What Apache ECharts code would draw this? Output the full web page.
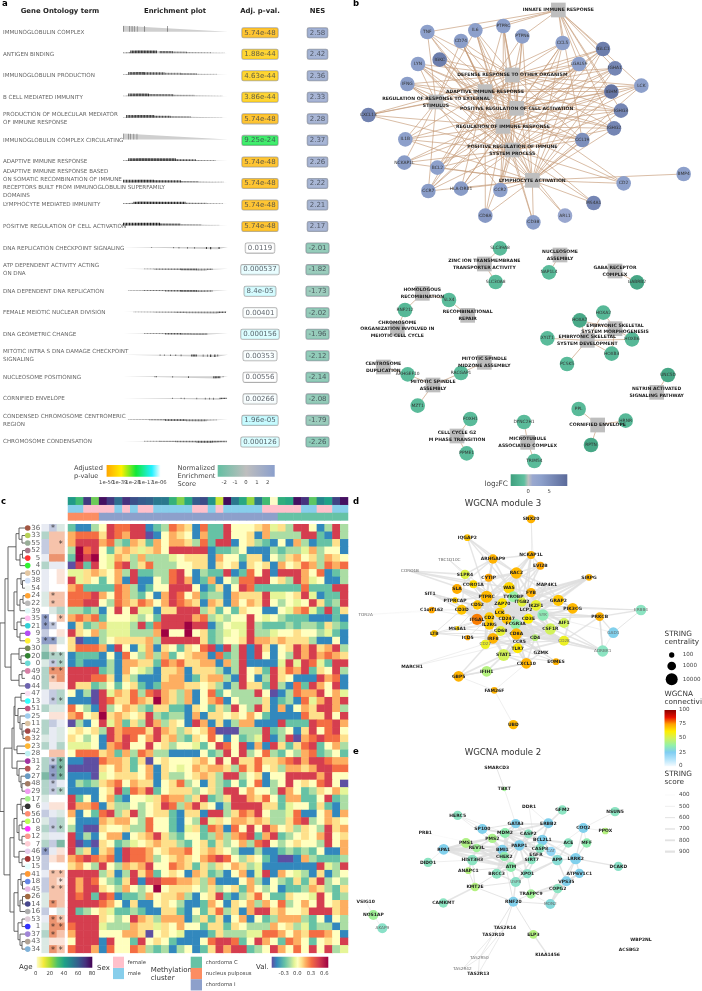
<!DOCTYPE html>
<html><head><meta charset="utf-8">
<style>html,body{margin:0;padding:0;background:#fff;overflow:hidden}#c{width:702px;height:991px}</style>
<script src="https://cdn.jsdelivr.net/npm/echarts@6/dist/echarts.min.js"></script></head>
<body><div id="c"></div>
<script>
// ---------- panel a data ----------
const goTermsA = ["IMMUNOGLOBULIN COMPLEX","ANTIGEN BINDING","IMMUNOGLOBULIN PRODUCTION","B CELL MEDIATED IMMUNITY",
 "PRODUCTION OF MOLECULAR MEDIATOR\nOF IMMUNE RESPONSE","IMMUNOGLOBULIN COMPLEX CIRCULATING","ADAPTIVE IMMUNE RESPONSE",
 "ADAPTIVE IMMUNE RESPONSE BASED\nON SOMATIC RECOMBINATION OF IMMUNE\nRECEPTORS BUILT FROM IMMUNOGLOBULIN SUPERFAMILY\nDOMAINS",
 "LYMPHOCYTE MEDIATED IMMUNITY","POSITIVE REGULATION OF CELL ACTIVATION","DNA REPLICATION CHECKPOINT SIGNALING",
 "ATP DEPENDENT ACTIVITY ACTING\nON DNA","DNA DEPENDENT DNA REPLICATION","FEMALE MEIOTIC NUCLEAR DIVISION","DNA GEOMETRIC CHANGE",
 "MITOTIC INTRA S DNA DAMAGE CHECKPOINT\nSIGNALING","NUCLEOSOME POSITIONING","CORNIFIED ENVELOPE",
 "CONDENSED CHROMOSOME CENTROMERIC\nREGION","CHROMOSOME CONDENSATION"];
const pvalLabels = ["5.74e-48","1.88e-44","4.63e-44","3.86e-44","5.74e-48","9.25e-24","5.74e-48","5.74e-48","5.74e-48","5.74e-48",
 "0.0119","0.000537","8.4e-05","0.00401","0.000156","0.00353","0.00556","0.00266","1.96e-05","0.000126"];
const nesValues = [2.58,2.42,2.36,2.33,2.28,2.37,2.26,2.22,2.21,2.17,-2.01,-1.82,-1.73,-2.02,-1.96,-2.12,-2.14,-2.08,-1.79,-2.26];
const esPeakRank = [0,.14,.14,.14,.14,0,.16,.16,.16,.16,.9,.75,.75,.9,.75,.88,.88,.92,.75,.88];
const esPeak = [.86,.38,.38,.38,.38,.86,.38,.38,.38,.38,-.3,-.26,-.26,-.26,-.26,-.3,-.3,-.26,-.26,-.26];
// gene-set hits along the ranked list: [from, to, density]
const hitBands = [
 [[0,.008,.5],[.06,.066,.6],[.083,.09,.6],[.108,.114,.6],[.133,.138,.6],[.203,.208,.9],[.42,.425,.9]],
 [[0,.07,.5],[.07,.32,.95],[.35,.47,.7],[.47,.6,.45],[.6,.83,.3],[.83,.97,.2]],
 [[0,.05,.4],[.05,.2,.85],[.2,.4,.7],[.4,.55,.45],[.55,.7,.6],[.7,.9,.25]],
 [[0,.05,.3],[.05,.24,.9],[.24,.47,.6],[.47,.68,.35],[.68,.95,.25]],
 [[0,.03,.3],[.03,.3,.9],[.3,.45,.7],[.45,.65,.5],[.65,.95,.2]],
 [[0,.006,.5],[.05,.056,.6],[.07,.076,.6],[.1,.106,.6],[.13,.136,.6]],
 [[0,.05,.4],[.05,.5,.95],[.5,.7,.7],[.7,.88,.4]],
 [[0,.3,.85],[.3,.55,.8],[.55,.72,.5],[.72,.95,.3]],
 [[0,.1,.5],[.1,.6,.9],[.6,.8,.5],[.8,.95,.3]],
 [[0,.35,.95],[.35,.55,.75],[.55,.75,.45],[.75,.92,.2]],
 [[.27,.277,.7],[.48,.486,.7],[.53,.536,.7],[.61,.616,.7],[.68,.686,.7],[.79,.8,.7],[.83,.84,.8],[.91,.92,.7]],
 [[.2,.3,.4],[.3,.55,.6],[.55,.7,.75],[.7,.8,.4],[.8,.85,.5]],
 [[.05,.2,.35],[.2,.4,.55],[.4,.55,.65],[.55,.7,.8],[.7,.85,.4]],
 [[.1,.3,.3],[.3,.5,.4],[.5,.6,.5],[.6,.9,.4],[.9,.98,.7]],
 [[.2,.4,.4],[.4,.55,.7],[.55,.65,.5],[.65,.8,.4]],
 [[.35,.356,.8],[.39,.396,.8],[.45,.456,.8],[.5,.506,.8],[.55,.556,.8],[.65,.7,.85],[.76,.766,.7],[.8,.806,.7],[.83,.84,.8],[.87,.88,.8],[.9,.906,.8]],
 [[.3,.32,.7],[.47,.477,.8],[.62,.627,.8],[.86,.92,.8],[.95,.956,.7]],
 [[.47,.476,.7],[.55,.556,.7],[.58,.586,.7],[.7,.706,.7],[.78,.786,.7],[.82,.826,.7],[.86,.866,.7],[.92,.98,.8]],
 [[.05,.25,.45],[.25,.4,.7],[.4,.6,.85],[.6,.8,.5],[.8,.9,.25]],
 [[.2,.35,.4],[.35,.5,.45],[.5,.7,.55],[.7,.85,.7],[.85,.98,.7]]
];
// ---------- panel c data ----------
const rowLabels = [36,33,55,52,5,4,50,38,54,24,22,39,35,21,9,3,30,20,0,49,40,44,47,13,51,25,11,42,32,23,28,31,2,27,48,29,17,6,56,10,8,12,7,46,19,15,41,18,45,26,14,16,53,1,37,43,34];
const rowDots = ["#8b2d14","#a6c52d","#7f9a7e","#8f5a6e","#ff0000","#00ee00","#dcb98c","#c6d8f5","#f0f5f0","#ff8c00","#a9a9a9","#d8f6f8","#ffb3ee","#00c5cd","#a020f0","#ffee00","#556b2f","#006400","#48d1cc","#cd6090","#ffffff","#483d9b","#f8d8f0","#00ffff","#b03060","#87bfe8","#d2b48c","#8b1a1a","#cd6b2d","#ffa500","#b0eef0","#8b008b","#a52a2a","#4682b4","#8b5a3c","#ee82ee","#90ee70","#000000","#ff7050","#adff2f","#ff00ff","#fa8072","#ffc0cb","#e0c0e8","#8b0000","#e0ffff","#ff7f00","#4169e1","#e6a8e0","#8b4513","#191970","#999999","#d8c0d0","#0000ff","#8968cd","#9c8c7c","#5f9fd0"];
const heatLevels = "abcdefghijk";
const heatRows = [
"cbbdfj iijjbc dihgbi ccjfff ghegdj jfbdjd","hiiigj ihjjab fhgfbh ccjffg bhdddd jjcbjd","hjjjhi dchgch fhhgdi cjjbfg dcbfbh dbccgb",
"dkijfc ghgegh fjjjjj bccdfb bbdcdd ehdffb","ckjkfe hgdhdd defggg bhffcg gbfdgh fgdhgf","ajcjfe ijdgid ddffgg bgfgbg fgbhfg ihdihi",
"eeghgf hdjccd dijfbd ccjbci fjbjjj hfibcd","jegfcf hbjbbf dijhbc hbfdii jjfgdj hefbbd","hicccc ihdbcf fjjjfb cgbfji cccccc icccjj",
"iiijhf ihdcfb hjifhc ddbhgg gjeefg jebccj","iijjfd ihgihf hjihgb hgbhfh gjfdfe fjgcdj","ddcdbf jfjeeb ggjjjd gcfcgf fbbfeh iecjcg",
"hihicf ffedfc jjjjhi dedffj fefdcc cbbbcb","bgcdhe eedjci jjjkjj bdfeej dcccdc ddcgdc","jgfhde eedddh kffkfg cdefej ddeffg ffdecb",
"gabbdf gggghd jjjjjg cdffgj hhghgg gdbbfb","giiihb jfbehb gfcgfi jbjdjb jgbfgj hjghjd","bcccbf bifdhd hcfghh bicdjb jfbfdj hjhihg",
"bcbbbd bhhggc ihiggh hbhdjb bbbeje jiecjj","jjjjcd bhfedb gghbgg gdbdjf gcjgih jcgfjd","jjjiig bgdbbb ghhbcg hhdbjf bdjgfb bbjhib",
"jggcdf cfgcbc hhhggf gdbdjg gcjdbi cjhfjb","fbdaje hgidij hgdhbf icfddd jfabdi hhjfhe","bbbaji ggihgk hgdhbf hibfdd dgbcdb iehjhj",
"ifdbjd fhgdcg gccbgf cgdjfd jgbhbf hgjjhd","hifgkg hgfgjd cddbhb ggfgfh fcbbbb iggjfj","adbfje hcgdjh dgfbjh bgbdhh bbbjcc cjiijh",
"fgfgdj hiiigj hgdgfg iaaadd djcdfb gjfijf","gfdfbj hjifhj ghdcgf ifbfcd ejbdja hijiig","eeefbh ijffjf gdffec fjifjb hbjgcg ijcfhd",
"fiiigh chdihd dbbbbf cdjfjd fidcfd hicdfc","bbaaih hgcgaf gfffgh fjfjgg igghij hjjihh","aaaagf hgcfhb gfefhg hhgdig ifgdhh ghjjii",
"bbbaef gggfhb gddfgh gdjjdf gbffjj jjhjff","bdcdgh ifhggb fgidfb gdcfcf ibdfjf gfijfa","bbbbfg jcihjc fgggdf gdjjfh ffdjhf cdgfhe",
"jcfbfh cbffeg ihhdgj cdgjjh gifchh ccfjcd","jhhibg ddfdfg jidhjg fbdjjj jggcef fcgcbd","hbfcij dgjdfg gcbggb jjdgih jfddei bbfhbh",
"fbbbhg hhfdif fcbfdj egfhhg hgddgi jdfhgf","dbaagf fgddif fcbegc ihbifj fjhfgd gfdjgh","jbdbfh hbfghj gdcffc dhdhij chjcdf gfhjfg",
"jabagf cdefgh ggdcfg cgdfhd ijfdfg ffdjfh","jdgbgh bjiihf ghhifg hgfdbb dbbcdc dcfbbh","hijihi bjiihd fghgfh ijifdg fcbaab hdcccd",
"ghfdjf dhghjf fihgcg dgfhgd ebbbbb bbjedj","jjjjdg bdjgic fgfbhg cdbfhb ejbhfe dbgbdf","jhjifd cgjbjj iihhgd hbbbfh dbfdcg cgjdfd",
"jhjjgf dhfdfk fgggfd gdfgch fdfbcc dhgdcg","jijcji bccdhf gghdbf gjcbdg ifccgf fejfcd","jjjjih fbgbbf gfdbbc hfbgfh dhfidf hfjfgh",
"jcdfge ccdcbb ggcbfc gidgbh jjghff gjjjgh","jjjjgf dfjhgd hhhbdg cgbfhb fcdhhh dcfbfd","ijjjed ddhgge gfhffc ggcgfd ddhfgd ecddbd",
"hjjjff fhhgaf gfebbb cgddde eiihfh giihfb","fjjjbj ffcjfg fcbbbf ijjicf jhfcih fcfgfj","ijjhbi ffihdc dbdfbc gjhjjc dfjhfi fjfjde"
];
const sampleAge = [42,32,68,26,77,68,55,70,63,60,58,52,52,35,24,38,60,64,44,15,78,52,38,22,52,32,-1,36,38,77,70,28,48,40,66,77];
const sampleSex = "mmffffmfmffmmmmmffmfmmmmmfffffmmffmm";
const sampleCluster = "nnnniiiiiiiiiiiiiiiiiiiiiiicccccccc c".replace(/ /g,"");
const annotCells = ["qpg","too","poo","poo","qOO","tqq","qwy","qwy","qww","goo","goo","wgt","Pwo","Ppw","pwy","PPg","tyw","Ttt","gpt","tOO","toO","tyy","qpt","qpt","tgg","wyy","tpq","tqg","gqg","tqt","woo","tpT","tPT","TPT","tpq","tpt","gww","qyy","pqg","gpt","tpt","gqq","tpT","Pqy","pyo","pww","qoo","poy","poo","goo","gOo","pwg","qOo","gOO","tOo","gyy","gOo"];
const annotStars = [".*.","...","..*","...","...","...","...","...","...",".*.",".*.","...","*.*","**.","...","**.","...",".**",".**",".**",".*.","...","...",".**","...","...","...","...","...","...","...",".**",".**",".**",".*.",".**","...","...","...","...",".**","...","...","*..","...","...",".**","..*",".**","...",".*.","...",".**",".**",".*.","...",".**"];
const annotLevels = "wgtTqpPyoO";
const annotPalette = ["#ffffff","#dbe9e4","#b2d4c9","#7db8a5","#e8ebf3","#c4cbe0","#8f9dc6","#fbe3d8","#f6c3ab","#ec9470"];
// dendrogram: [height, left, right], leaves are row numbers
const dendroTree = [25,
 [20,[17,[9,[6,0,[3,1,2]],[5,[2.5,3,4],5]],[11,[8,[4,6,[2.5,7,8]],[5,[2,9,10],11]],[8,[4,12,13],[5,14,15]]]],
     [14,[6,16,[4,17,18]],[6,[3,19,20],21]]],
 [21,[13,[11,[10,[4,22,23],[7,24,[5,25,[3,26,[2,27,28]]]]],[8,29,30]],[8,31,[6,32,[4,33,[3,34,35]]]]],
     [15,[11,[8,[4,36,[2.5,37,38]],[6,[3,39,40],[3,41,42]]],[6,43,[3,44,45]]],
         [11,[7,[4,46,[2.5,47,48]],[5,[2.5,49,50],51]],[7,[3,52,53],[5,54,[3,55,56]]]]]]];
// ---------- panel b data: [label, layoutX, layoutY] ----------
const bTerms = [["INNATE IMMUNE RESPONSE",625,30],["DEFENSE RESPONSE TO OTHER ORGANISM",487,225],["ADAPTIVE IMMUNE RESPONSE",405,275],
 ["REGULATION OF RESPONSE TO EXTERNAL\nSTIMULUS",258,306],["POSITIVE REGULATION OF CELL ACTIVATION",500,325],["REGULATION OF IMMUNE RESPONSE",459,379],
 ["POSITIVE REGULATION OF IMMUNE\nSYSTEM PROCESS",487,450],["LYMPHOCYTE ACTIVATION",547,541],
 ["ZINC ION TRANSMEMBRANE\nTRANSPORTER ACTIVITY",403,792],["NUCLEOSOME\nASSEMBLY",630,765],["GABA RECEPTOR\nCOMPLEX",795,813],
 ["HOMOLOGOUS\nRECOMBINATION",217,880],["RECOMBINATIONAL\nREPAIR",353,946],["CHROMOSOME\nORGANIZATION INVOLVED IN\nMEIOTIC CELL CYCLE",142,987],
 ["EMBRYONIC SKELETAL\nSYSTEM MORPHOGENESIS",795,986],["EMBRYONIC SKELETAL\nSYSTEM DEVELOPMENT",712,1021],["CENTROSOME\nDUPLICATION",100,1101],
 ["MITOTIC SPINDLE\nASSEMBLY",249,1155],["MITOTIC SPINDLE\nMIDZONE ASSEMBLY",403,1087],["CELL CYCLE G2\nM PHASE TRANSITION",321,1308],
 ["MICROTUBULE\nASSOCIATED COMPLEX",533,1327],["CORNIFIED ENVELOPE",743,1275],["NETRIN ACTIVATED\nSIGNALING PATHWAY",920,1177]];
// [gene, layoutX, layoutY, log2FC, linked term indices]
const bGenes = [["TNF",232,96,3,[0,1,3,4,5,6]],["IL6",376,91,3,[0,1,3,4,5,6,7]],["PTPRC",460,78,3,[0,1,2,4,5,6,7]],["PTPN6",517,109,3,[0,2,4,5,6,7]],
 ["CD74",333,123,3.2,[1,2,3,4,5,6,7]],["CCL5",638,129,3,[0,1,3,4,5,6,7]],["IGLC1",759,147,7,[0,1,2,4,5,6,7]],["LGALS9",687,192,3,[0,1,2,4,5,6,7]],
 ["IGKC",269,179,7,[1,2,4,5,6,7]],["LYN",204,192,3,[1,2,3,4,5,6,7]],["IGHA1",795,205,6,[0,1,2,4,5,6,7]],["IFNG",172,252,3.2,[1,2,3,4,5,6,7]],
 ["LCK",874,257,3,[0,1,2,4,5,6,7]],["IGHM",784,275,8,[0,1,2,4,5,6,7]],["IGHG3",813,332,6,[0,1,2,4,5,6,7]],["CXCL13",55,345,6.5,[1,2,3,5,6]],
 ["IGHG2",792,385,6,[0,1,2,4,5,6,7]],["IL1B",166,418,3,[1,3,4,5,6,7]],["CCL19",697,420,5,[0,1,3,4,5,6,7]],["NCKAP1L",163,488,3.5,[3,4,5,6,7]],
 ["BCL2",262,503,3,[1,2,4,5,6,7]],["CD2",821,550,3,[4,5,6,7]],["BMP4",1001,522,3,[7]],["CCR7",235,573,3.5,[1,2,3,4,5,6,7]],
 ["HLA-DRB1",333,566,3.5,[2,4,5,6,7]],["CCR2",451,570,3,[1,3,4,5,6,7]],["MS4A1",731,609,6,[5,6,7]],["ARL1",645,647,1.2,[6,7]],
 ["CD8A",406,647,3.8,[2,5,6,7]],["CD38",550,667,3.2,[5,6,7]],
 ["SLC39A8",450,745,-1.5,[8]],["SLC30A8",437,846,-1.5,[8]],["NAP1L4",597,817,-1.5,[9]],["GABRB2",861,847,-3.5,[10]],["RNF212",165,930,-1.8,[11,13]],
 ["SLX4",297,900,-1.5,[11,12]],["HOXA2",760,938,-1.8,[14,15]],["HOXA7",689,961,-3.2,[14,15]],["HOXB6",846,1018,-1.8,[14,15]],["XYLT1",592,1015,-1.5,[15]],
 ["HOXB3",785,1061,-1.8,[14,15]],["PCSK5",651,1092,-1.5,[15]],["ARHGEF10",173,1123,-1.5,[16,17]],["RACGAP1",333,1119,-1.5,[17,18]],["MZT1",203,1217,-1.5,[17]],
 ["FOXH1",361,1257,-1.5,[19]],["PPME1",350,1360,-1.5,[19]],["DYNC2H1",522,1266,-1.5,[20]],["TRIM54",553,1383,-1.5,[20]],["PPL",686,1227,-1.6,[21]],
 ["HRNR",827,1262,-1.8,[21]],["RPTN",723,1335,-3.4,[21]],["UNC5D",954,1125,-3.4,[22]]];
// ---------- panels d,e data: [gene, layoutX, layoutY, centrality, connectivity] ----------
const m3Nodes = [["SNX20",543,57,1000,72],["IQGAP2",352,113,260,69],["TBC1D10C",298,180,0,0],["ARHGAP9",429,177,1600,72],["NCKAP1L",543,165,640,72],["EVI2B",571,197,640,74],
 ["CORO1B",180,213,0,0],["S1PR4",345,223,1600,53],["CYTIP",416,233,640,74],["RAC2",499,219,6000,71],["SIRPG",717,232,260,72],["CORO1A",370,253,640,65],["MAP4K1",590,255,0,70],
 ["WAS",477,263,6000,66],["SLA",321,267,2500,73],["FYB",543,278,1600,72],["SIT1",240,280,0,70],["PTPRC",410,290,10000,71],["TYROBP",490,290,4000,38],["GRAP2",625,301,6000,69],
 ["PTPRCAP",315,301,160,68],["CD52",382,315,1600,69],["ITGB2",516,306,1600,54],["ZAP70",457,310,2500,63],["IKZF1",558,316,4000,56],["LCP2",528,330,0,70],["PIK3CG",668,325,4000,71],
 ["ERBB4",873,330,4000,33],["C1orf162",245,330,260,74],["CD3D",335,329,2500,69],["TOR2A",47,344,0,0],["LCK",449,338,2500,68],["SYK",579,345,6000,35],["PRKCB",749,350,1000,72],
 ["CD2",418,352,2500,68],["CD247",470,357,2500,69],["CD3E",535,356,2500,62],["ITGAL",381,358,6000,78],["AIF1",642,369,2500,50],["FCGR3A",497,372,4000,37],["IL2RG",418,374,2500,68],
 ["MS4A1",322,385,60,66],["CD68",452,393,2500,55],["CSF1R",601,387,6000,50],["GAD1",790,398,4000,26],["LTB",253,400,260,69],["CD8A",499,402,6000,71],["IRF8",429,415,4000,72],
 ["ICD5",353,413,100,74],["CD4",555,413,260,45],["CD27",406,433,1600,57],["CCR5",508,425,0,65],["CD28",642,422,2500,57],["TLR7",503,445,2500,63],["ADRBK1",758,453,6000,33],
 ["GZMK",573,457,0,70],["STAT1",461,465,10000,50],["EOMES",618,485,260,72],["CXCL10",529,490,4000,72],["MARCH1",186,500,0,70],["IFIH1",410,514,4000,44],["GBP5",326,529,4000,72],
 ["FAM26F",433,571,260,72],["UBD",490,674,1600,71]];
// [score, hub, partners]
const m3Edges = [[850,"CD3E",["CD247","CD2","LCK","ZAP70","CD3D","CD8A","CD4","LCP2","CD28","PTPRC","IL2RG","ITGAL","CCR5"]],
 [900,"LCK",["CD247","ZAP70","CD4","CD8A","CD2","PTPRC","CD3D","LCP2","SYK","CD28","FYB","WAS","GRAP2","IL2RG","ITGAL"]],
 [850,"TYROBP",["SYK","FCGR3A","ITGB2","CSF1R","AIF1","CD68","IKZF1","RAC2","FYB","PTPRC"]],[800,"ITGB2",["ITGAL","FCGR3A","CD68","CSF1R","RAC2","PTPRC","SYK","LCP2"]],
 [800,"PTPRC",["CD247","CD2","ZAP70","CD4","WAS","RAC2","ITGAL","CD52","PTPRCAP","SLA","CYTIP","CORO1A","CD3D","CD27","CD8A","IL2RG","SYK","IKZF1","CD68"]],
 [750,"ARHGAP9",["PTPRC","WAS","RAC2","IQGAP2","S1PR4","NCKAP1L","CYTIP","SLA"]],[750,"NCKAP1L",["RAC2","WAS","EVI2B","PTPRC","LCP2","ITGB2"]],[500,"SNX20",["NCKAP1L","IKZF1"]],
 [750,"EVI2B",["ITGB2","TYROBP","PTPRC","RAC2"]],[750,"MAP4K1",["FYB","LCP2","GRAP2","RAC2","CD3E"]],[800,"SIRPG",["CD3E","ITGB2","LCP2","FYB","CD2","GRAP2","ZAP70"]],
 [800,"GRAP2",["LCP2","ZAP70","FYB","CD3E","PIK3CG","ITGAL"]],[700,"PIK3CG",["LCK","CD3E","FCGR3A","ITGB2","SYK","RAC2"]],[700,"PRKCB",["SYK","LCK","ERBB4","GAD1","CD3E","CD28","LCP2","ADRBK1"]],
 [600,"ERBB4",["GAD1","IKZF1","PIK3CG"]],[700,"ADRBK1",["CD4","CD3E","PRKCB","SYK","CD28"]],[500,"GAD1",["SYK","ADRBK1"]],[800,"CD28",["CD4","CD3E","CD8A","LCK","CD2","PIK3CG","IL2RG","ADRBK1","STAT1"]],
 [800,"STAT1",["IFIH1","CXCL10","GBP5","IL2RG","CD4","CD8A","TLR7","CCR5","IRF8","CD3E","CSF1R"]],[750,"CXCL10",["CCR5","IFIH1","CD8A","TLR7","GBP5","CD4","GZMK"]],[700,"GBP5",["IFIH1","IRF8"]],
 [500,"FAM26F",["UBD","GBP5","CXCL10"]],[700,"IRF8",["CD68","TLR7","CSF1R"]],[500,"MARCH1",["CD4","CD8A"]],[400,"TOR2A",["CD3D","C1orf162"]],[600,"TBC1D10C",["ZAP70","PTPRC"]],
 [750,"CORO1B",["CORO1A","PTPRC","S1PR4","WAS"]],[700,"SIT1",["LCK","CD3E","CD2","CD3D"]],[500,"C1orf162",["FCGR3A","CD3D"]],[600,"LTB",["CD3D","CD2","IL2RG","CD8A","CCR5"]],
 [600,"MS4A1",["CD2","CD8A","CD3E","PTPRC"]],[600,"ICD5",["CD8A","CD2"]],[700,"GZMK",["CD8A","CD3E","CCR5","CD2"]],[600,"EOMES",["CD8A","STAT1","GZMK","TLR7"]],[700,"CD27",["CD4","CD28","CD2","PTPRC","ZAP70","LCK"]],
 [800,"CCR5",["CD4","CD8A"]],[700,"TLR7",["CD4","IRF8","TYROBP"]],[700,"CD52",["CD2","PTPRC","CD3D","LCK"]],[850,"CD3D",["ZAP70","CD2","CD4","CD8A","CD247","ITGAL"]],
 [900,"ZAP70",["CD247","CD8A","LCP2","CD4","ITGAL","CD2","SYK"]],[900,"CD247",["CD8A","CD4","CD2","FCGR3A","ITGAL"]],[900,"CD4",["CD8A","CD2","IL2RG","LCP2","CD68","AIF1","CSF1R","TYROBP"]],
 [850,"CD8A",["CD2","IL2RG","ITGAL","FCGR3A"]],[850,"IL2RG",["CD2","ITGAL","SYK","LCP2"]],[850,"SYK",["LCP2","FCGR3A","WAS","IKZF1","CSF1R","FYB"]],[800,"WAS",["RAC2","CD3E","FYB","ITGB2","CD2"]],
 [800,"RAC2",["SYK","FCGR3A","ITGAL","CYTIP","CORO1A"]],[800,"FCGR3A",["CD68","CSF1R","CD2"]],[800,"CSF1R",["AIF1","CD68","CD4"]],[700,"AIF1",["CD68","IKZF1"]],[750,"IKZF1",["IL2RG","CD3E","LCK","CD2","FYB"]],
 [700,"SLA",["LCK","ZAP70","CD3E"]],[700,"CYTIP",["CD3E","LCK"]],[700,"CORO1A",["LCK","CD3E","ZAP70"]],[700,"PTPRCAP",["LCK","CD3D"]],[700,"IQGAP2",["RAC2","PTPRC","ITGB2"]],[650,"S1PR4",["CD3D","CXCL10"]]];
const m2Nodes = [["SMARCD3",440,84,0,0],["TBXT",463,147,60,40],["DDR1",537,199,0,0],["GFM2",637,210,1600,33],["NSUN5",795,215,1600,33],["HERC5",323,226,1600,33],["ERBB2",595,250,2500,26],
 ["GATA3",497,251,1600,26],["COQ2",700,264,2500,26],["SP100",397,267,2500,26],["PPOX",766,273,260,44],["PRB1",226,279,0,0],["MDM2",465,279,2500,36],["CASP2",535,281,1000,33],["PMS2",427,295,1600,42],
 ["BCL2L1",577,300,4000,26],["PMS1",348,309,2500,43],["ACE",655,309,1600,33],["MFF",710,309,1600,36],["PARP1",508,316,4000,26],["REV3L",380,324,1000,40],["RPA1",281,328,4000,26],["BMI1",457,329,2500,26],
 ["CASP8",570,325,1600,33],["CAT",603,334,1600,20],["EGFR",558,343,0,33],["CHEK2",463,349,1600,36],["SIRT7",545,360,1000,33],["HIST3H3",367,360,4000,33],["APP",622,360,4000,30],["LRRK2",677,356,6000,26],
 ["DIDO1",234,367,1600,33],["ATM",483,381,2500,36],["DCAKD",805,379,1600,32],["ANAPC1",355,392,260,44],["BRCC3",440,401,2500,33],["XPO1",532,401,1600,32],["ATP6V1C1",688,400,1600,26],["VPS35",649,424,2500,26],
 ["USP8",497,426,2500,32],["KMT2E",375,441,1000,44],["COPG2",623,446,1600,33],["TRAPPC9",543,462,1600,40],["RNF20",490,485,2500,26],["MON2",601,492,2500,29],["CAMKMT",280,489,1600,33],["VSIG10",47,485,0,0],
 ["NOS1AP",70,525,2500,40],["AKAP9",97,565,2500,32],["TAS2R14",465,562,0,0],["TAS2R10",430,583,0,0],["ELP3",550,583,1000,44],["KIAA1456",593,645,0,0],["TAS2R50",388,654,0,0],["TAS2R42",337,688,0,0],
 ["TAS2R13",385,701,0,0],["WBP2NL",873,600,0,0],["ACSBG2",837,628,0,0]];
const m2Edges = [[850,"RPA1",["PMS1","PMS2","BMI1","CHEK2","HIST3H3","ATM","PARP1","REV3L"]],[850,"PMS1",["PMS2","REV3L","ATM","BMI1","CHEK2"]],[850,"PMS2",["ATM","CHEK2","MDM2","PARP1","REV3L","BMI1"]],
 [800,"REV3L",["ATM","CHEK2"]],[850,"HIST3H3",["BMI1","CHEK2","ATM","PARP1","ANAPC1","REV3L"]],[850,"ATM",["CHEK2","MDM2","PARP1","BMI1","BRCC3","EGFR","XPO1","SIRT7"]],
 [800,"MDM2",["PARP1","CHEK2","CASP2","CASP8","GATA3","ERBB2","SP100","BCL2L1","EGFR"]],[750,"GATA3",["ERBB2","BMI1","EGFR","CASP2"]],[750,"ERBB2",["EGFR","BCL2L1","PARP1","GFM2"]],
 [800,"PARP1",["CASP8","BCL2L1","CASP2","EGFR","CHEK2","BMI1","SIRT7","XPO1"]],[800,"BCL2L1",["CASP8","CASP2","EGFR","APP","ACE","LRRK2"]],[700,"CASP8",["CAT","APP","EGFR","XPO1"]],
 [500,"CAT",["APP","LRRK2","ACE","COQ2","SIRT7"]],[700,"APP",["LRRK2","ACE","EGFR","VPS35","XPO1","USP8"]],[650,"LRRK2",["VPS35","ATP6V1C1","DCAKD","MFF","COPG2","COQ2"]],
 [800,"VPS35",["ATP6V1C1","COPG2","MON2","TRAPPC9"]],[800,"COPG2",["MON2","TRAPPC9","ATP6V1C1"]],[500,"COQ2",["PPOX","MFF","NSUN5"]],[500,"HERC5",["SP100","BMI1","MDM2"]],[600,"SP100",["GATA3","MDM2","BMI1"]],
 [400,"PRB1",["BMI1"]],[500,"DIDO1",["HIST3H3","RPA1"]],[500,"DDR1",["ERBB2","EGFR"]],[600,"SMARCD3",["TBXT"]],[500,"TBXT",["GATA3"]],[600,"ANAPC1",["ATM","KMT2E"]],
 [600,"KMT2E",["HIST3H3","BRCC3","RNF20","USP8"]],[750,"CAMKMT",["KMT2E"]],[700,"BRCC3",["ATM","BMI1","USP8","CHEK2","PARP1"]],[700,"USP8",["RNF20","XPO1","EGFR","ATM"]],[500,"XPO1",["TRAPPC9","CHEK2"]],
 [600,"RNF20",["TRAPPC9","ELP3","TAS2R14","TAS2R10","BMI1","MON2"]],[550,"TAS2R14",["TAS2R50","TAS2R13"]],[550,"TAS2R10",["TAS2R50","TAS2R42"]],[550,"TAS2R50",["TAS2R13","TAS2R42"]],[700,"ELP3",["KIAA1456"]],
 [500,"VSIG10",["NOS1AP"]],[500,"NOS1AP",["AKAP9"]],[500,"TRAPPC9",["MON2"]]];
const dimLabels = ["TBC1D10C","CORO1B","TOR2A","ERBB4","SYK","GAD1","ADRBK1","CD27","CD28","CAT","USP8","MON2","AKAP9","TAS2R50","TAS2R42"];
// ---------- scales ----------
const spectral = ["#5e4fa2","#3288bd","#66c2a5","#abdda4","#e6f598","#ffffbf","#fee08b","#fdae61","#f46d43","#d53e4f","#9e0142"];
const viridisR = ["#fdfbc8","#f3ea3a","#a5db36","#4ac16d","#1fa187","#277f8e","#365c8d","#46327e","#440154"];
const pStops = [[0,"#ffa600"],[.26,"#fff000"],[.52,"#11e83a"],[.8,"#22f0ff"],[.955,"#ffffff"],[1,"#ffffff"]];
const nesStops = [[-2.7,"#64bfa2"],[0,"#bebebe"],[2.7,"#8b9fcc"]];
const fcStops = [[-4.2,"#3f9f7e"],[-1,"#5fc09f"],[0,"#c0c0c0"],[1,"#9aa8cf"],[3,"#8da0cb"],[9.3,"#5b6a9a"]];
const connStops = [[0,"#f4fbff"],[12,"#b4e4fa"],[25,"#7fcdf2"],[37,"#92f0aa"],[50,"#d2f25a"],[62,"#ffee00"],[75,"#ffa000"],[87,"#e81000"],[100,"#8b0000"]];
function hex(c){return [1,3,5].map(i=>parseInt(c.substr(i,2),16));}
function ramp(st,v){ if(v<=st[0][0])return st[0][1]; for(let i=1;i<st.length;i++){ if(v<=st[i][0]){const t=(v-st[i-1][0])/(st[i][0]-st[i-1][0]),a=hex(st[i-1][1]),b=hex(st[i][1]);return 'rgb('+a.map((x,k)=>Math.round(x+(b[k]-x)*t)).join(',')+')';}} return st[st.length-1][1];}
function grad(st,vertical,rev){const a=st[0][0],b=st[st.length-1][0];return new echarts.graphic.LinearGradient(0,0,vertical?0:1,vertical?1:0,st.map(s=>({offset:rev?1-(s[0]-a)/(b-a):(s[0]-a)/(b-a),color:s[1]})).sort((x,y)=>x.offset-y.offset));}
const FONT="DejaVu Sans";
const hidden=(o)=>Object.assign({show:false,axisLine:{show:false},axisTick:{show:false},axisLabel:{show:false},splitLine:{show:false}},o);
const rowIdx=rowLabels.map((_,i)=>i),colIdx=Array.from({length:36},(_,i)=>i);
const RT=524.24,RH=428.64;
const grids=[];const xAxes=[];const yAxes=[];
function addGrid(g,x,y){grids.push(Object.assign({containLabel:false,show:false},g));xAxes.push(hidden(Object.assign({gridIndex:grids.length-1},x)));yAxes.push(hidden(Object.assign({gridIndex:grids.length-1},y)));return grids.length-1;}
const termCat=goTermsA.map((_,i)=>i);
const G_A=addGrid({left:0,top:21.93,width:702,height:430.8},{type:'value',min:0,max:702},{type:'category',data:termCat,inverse:true});
const G_EN=addGrid({left:123,top:21.93,width:105,height:430.8},{type:'value',min:0,max:1},{type:'category',data:termCat,inverse:true});
const G_DEN=addGrid({left:0,top:RT,width:25,height:RH},{type:'value',min:0,max:25,inverse:true},{type:'category',data:rowIdx,inverse:true});
const G_LAB=addGrid({left:0,top:RT,width:68,height:RH},{type:'value',min:0,max:68},{type:'category',data:rowIdx,inverse:true});
const G_ANN=addGrid({left:41.7,top:RT,width:22.8,height:RH},{type:'category',data:[0,1,2]},{type:'category',data:rowIdx,inverse:true});
const G_HEAT=addGrid({left:68,top:RT,width:280,height:RH},{type:'category',data:colIdx},{type:'category',data:rowIdx,inverse:true});
const G_AGE=addGrid({left:68,top:497.3,width:280,height:7.7},{type:'category',data:colIdx},{type:'category',data:[0]});
const G_SEX=addGrid({left:68,top:505.2,width:280,height:7.6},{type:'category',data:colIdx},{type:'category',data:[0]});
const G_CLU=addGrid({left:68,top:513,width:280,height:7.4},{type:'category',data:colIdx},{type:'category',data:[0]});
const G_B=addGrid({left:350,top:0,width:352,height:500},{type:'value',min:0,max:1056},{type:'value',min:0,max:1500,inverse:true});
const G_D=addGrid({left:350,top:500,width:352,height:240},{type:'value',min:0,max:1056},{type:'value',min:0,max:720,inverse:true});
const G_E=addGrid({left:350,top:740,width:352,height:251},{type:'value',min:0,max:1056},{type:'value',min:0,max:753,inverse:true});
const series=[];const vms=[];
const base=(g)=>({xAxisIndex:g,yAxisIndex:g,silent:true,animation:false});
// panel a
series.push(Object.assign(base(G_A),{type:'scatter',symbolSize:0,data:goTermsA.map((t,i)=>({value:[3,i],name:t})),
 label:{show:true,position:'right',distance:0,formatter:p=>p.name,fontFamily:FONT,fontSize:5.6,lineHeight:8,color:'#3a3a3a'}}));
series.push(Object.assign(base(G_A),{type:'scatter',symbolSize:0,data:pvalLabels.map((t,i)=>{const v=(Math.log10(+t)+50)/50;return {value:[260,i],name:t,label:{backgroundColor:ramp(pStops,v)}};}),
 label:{show:true,position:'inside',formatter:p=>p.name,fontFamily:FONT,fontSize:7,color:'#3a4048',padding:[1.5,2.2,1,2.2],borderRadius:1.5,borderColor:'#9a9a9a',borderWidth:.8}}));
series.push(Object.assign(base(G_A),{type:'scatter',symbolSize:0,data:nesValues.map((v,i)=>({value:[317.5,i],name:v.toFixed(2),label:{backgroundColor:ramp(nesStops,v)}})),
 label:{show:true,position:'inside',formatter:p=>p.name,fontFamily:FONT,fontSize:7,color:'#3a4048',padding:[1.5,2.2,1,2.2],borderRadius:1.5,borderColor:'#8a8f98',borderWidth:.8}}));
series.push(Object.assign(base(G_EN),{type:'custom',data:termCat.map(i=>[esPeakRank[i],i,esPeak[i]]),encode:{x:0,y:1},clip:false,
 renderItem:(params,api)=>{const i=api.value(1),px=api.value(0),es=api.value(2);
  const h=es*7,p0=api.coord([0,i]),p1=api.coord([1,i]),pk=api.coord([px,i]);const y=p0[1]-1;
  const kids=[{type:'polygon',shape:{points:[[p0[0],y],[pk[0],y-h],[p1[0],y]]},style:{fill:'#cfcfcf'}}];
  const wedge=x=>{const t=x<px?(px?x/px:1):(1-x)/(1-px);return Math.abs(h)*t;};
  hitBands[i].forEach(b=>{const a=api.coord([b[0],i])[0],e=api.coord([b[1],i])[0],mid=(b[0]+b[1])/2;
   if(Math.abs(h)>5){kids.push({type:'rect',shape:{x:a,y:y-5.6,width:e-a,height:5.6},style:{fill:'#333',opacity:b[2]}});return;}
   const hh=Math.max(.9,wedge(mid)+.3),top=h>0?y-hh:y-.2;
   if(e-a<2){kids.push({type:'rect',shape:{x:a,y:top,width:Math.max(e-a,.6),height:hh},style:{fill:'#000',opacity:b[2]}});return;}
   // dense stretches of hits are drawn as fine hatching
   for(let x=a;x<e;x+=1.5)kids.push({type:'rect',shape:{x,y:top,width:1,height:hh},style:{fill:'#000',opacity:b[2]*.9}});});
  return {type:'group',children:kids};}}));
// dendrogram
const dendroSegs=[];(function walk(n){if(typeof n==='number')return [0,n];const a=walk(n[1]),b=walk(n[2]);dendroSegs.push([n[0],a[1],b[1],a[0],b[0]]);return [n[0],(a[1]+b[1])/2];})(dendroTree);
series.push(Object.assign(base(G_DEN),{type:'custom',data:dendroSegs,encode:{x:0,y:1},clip:false,renderItem:(p,api)=>{
  const h=api.value(0),y0=api.value(1),y1=api.value(2),h0=api.value(3),h1=api.value(4);
  const c=(x,y)=>{const q=api.coord([x,0]),r=api.coord([0,1]),r0=api.coord([0,0]);return [q[0],r0[1]+(r[1]-r0[1])*y];};
  return {type:'polyline',shape:{points:[c(h0,y0),c(h,y0),c(h,y1),c(h1,y1)]},style:{stroke:'#555',lineWidth:.9,fill:null}};}}));
// row labels and dots
series.push(Object.assign(base(G_LAB),{type:'scatter',symbolSize:5.6,data:rowLabels.map((l,i)=>({value:[27.7,i],itemStyle:{color:rowDots[i]}}))}));
series.push(Object.assign(base(G_LAB),{type:'scatter',symbolSize:0,data:rowLabels.map((l,i)=>({value:[40.2,i],name:String(l)})),
 label:{show:true,position:'left',distance:0,formatter:p=>p.name,fontFamily:FONT,fontSize:7,color:'#333'}}));
// side annotation
const annData=[];annotCells.forEach((s,r)=>[...s].forEach((c,k)=>annData.push([k,r,annotLevels.indexOf(c)])));
vms.push({type:'piecewise',show:false,seriesIndex:series.length,dimension:2,pieces:annotPalette.map((c,i)=>({value:i,color:c}))});
series.push(Object.assign(base(G_ANN),{type:'heatmap',data:annData,progressive:0}));
const starData=[];annotStars.forEach((s,r)=>[...s].forEach((c,k)=>{if(c==='*')starData.push([k,r]);}));
series.push(Object.assign(base(G_ANN),{type:'scatter',symbolSize:0,data:starData,label:{show:true,position:'inside',formatter:'*',offset:[0,1.4],fontFamily:FONT,fontSize:8,color:'#111'}}));
// heatmap
const heatData=[];heatRows.forEach((s,r)=>[...s.replace(/ /g,'')].forEach((c,k)=>heatData.push([k,r,-.56+.125*heatLevels.indexOf(c)])));
vms.push({type:'continuous',show:false,seriesIndex:series.length,dimension:2,min:-.56,max:.69,inRange:{color:spectral}});
series.push(Object.assign(base(G_HEAT),{type:'heatmap',data:heatData,progressive:0}));
vms.push({type:'continuous',show:false,seriesIndex:series.length,dimension:2,min:0,max:80,inRange:{color:viridisR},outOfRange:{color:'#808080'}});
series.push(Object.assign(base(G_AGE),{type:'heatmap',data:sampleAge.map((v,i)=>[i,0,v]),progressive:0}));
vms.push({type:'piecewise',show:false,seriesIndex:series.length,dimension:2,pieces:[{value:0,color:'#87ceeb'},{value:1,color:'#ffc0cb'}]});
series.push(Object.assign(base(G_SEX),{type:'heatmap',data:[...sampleSex].map((s,i)=>[i,0,s==='m'?0:1]),progressive:0}));
vms.push({type:'piecewise',show:false,seriesIndex:series.length,dimension:2,pieces:[{value:0,color:'#fc8d62'},{value:1,color:'#8da0cb'},{value:2,color:'#66c2a5'}]});
series.push(Object.assign(base(G_CLU),{type:'heatmap',data:[...sampleCluster].map((s,i)=>[i,0,'nic'.indexOf(s)]),progressive:0}));
// panel b
const bNodes=[],bLinks=[];
bTerms.forEach(t=>bNodes.push({name:t[0],value:[t[1],t[2]],symbol:'rect',symbolSize:14.7,itemStyle:{color:'#bebebe'},
 label:{fontWeight:'bold',fontSize:4.6,color:'#1a1a1a',lineHeight:6.7,z:10}}));
bGenes.forEach(g=>{bNodes.push({name:g[0],value:[g[1],g[2]],symbol:'circle',symbolSize:14.6,itemStyle:{color:ramp(fcStops,g[3])},label:{fontSize:4.4,color:'#333'}});
 g[4].forEach(t=>bLinks.push({source:g[0],target:bTerms[t][0]}));});
series.push(Object.assign(base(G_B),{type:'graph',coordinateSystem:'cartesian2d',layout:'none',data:bNodes,links:bLinks,
 label:{show:true,position:'inside',formatter:'{b}',fontFamily:FONT},lineStyle:{color:'#c79d7b',width:.8,opacity:.85,curveness:0}}));
// panels d,e
function stringGraph(g,nodes,edges){
 const names=new Set(nodes.map(n=>n[0]));const links=[];
 edges.forEach(e=>e[2].forEach(t=>{if(names.has(e[1])&&names.has(t))links.push({source:e[1],target:t,lineStyle:{width:(e[0]-350)/250}});}));
 series.push(Object.assign(base(g),{type:'graph',coordinateSystem:'cartesian2d',layout:'none',
  data:nodes.map(n=>{const dim=dimLabels.includes(n[0]),has=n[3]>0;
   return {name:n[0],value:[n[1],n[2]],symbol:'circle',symbolSize:has?Math.max(2,5.3+(Math.log10(n[3])-2)*3.35):.1,
    itemStyle:{color:has?ramp(connStops,n[4]):'rgba(0,0,0,0)'},
    label:{fontWeight:dim?'normal':'bold',color:dim?'#666':'#222',fontSize:dim?4.2:4.5}};}),
  links,label:{show:true,position:'inside',formatter:'{b}',fontFamily:FONT},lineStyle:{color:'#dedede',opacity:.8,curveness:0}}));
}
stringGraph(G_D,m3Nodes,m3Edges);stringGraph(G_E,m2Nodes,m2Edges);
// ---------- static text and legends ----------
const gfx=[];
const T=(x,y,s,o)=>gfx.push({type:'text',x,y,silent:true,style:Object.assign({text:s,fontFamily:FONT,fontSize:7,fill:'#333',textAlign:'left',textVerticalAlign:'middle'},o||{})});
const R=(x,y,w,h,fill)=>gfx.push({type:'rect',silent:true,shape:{x,y,width:w,height:h},style:{fill}});
[["a",2,4],["b",353,4],["c",1,502],["d",353,502],["e",353,752]].forEach(l=>T(l[1],l[2],l[0],{fontWeight:'bold',fontSize:8.5,fill:'#000'}));
[["Gene Ontology term",60],["Enrichment plot",175],["Adj. p-val.",260],["NES",317.5]].forEach(h=>T(h[1],11.3,h[0],{fontWeight:'bold',fontSize:6.9,textAlign:'center',fill:'#222'}));
T(74,472,"Adjusted\np-value",{fontSize:6.6,lineHeight:8.2,fill:'#444'});
R(106.6,465,56.6,11.7,grad(pStops,false));
["1e-50","1e-39","1e-28","1e-17","1e-06"].forEach((s,i)=>T(106.7+i*13.1,483,s,{fontSize:5.3,textAlign:'center',fill:'#444'}));
T(177.5,476.5,"Normalized\nEnrichment\nScore",{fontSize:6.6,lineHeight:7.9,fill:'#444'});
R(217.7,465,57,11.7,grad(nesStops,false));
[-2,-1,0,1,2].forEach(v=>T(246+v*10.9,483,String(v),{fontSize:5.3,textAlign:'center',fill:'#444'}));
// panel b legend
T(508,484,"log{s|2}FC",{textAlign:'right',fontSize:7.4,fill:'#444',rich:{s:{fontSize:5,fill:'#444',verticalAlign:'bottom'}}});
R(510.7,474.3,56.6,11.7,grad(fcStops,false));
T(528.3,491.8,"0",{fontSize:5.3,textAlign:'center',fill:'#444'});T(549.3,491.8,"5",{fontSize:5.3,textAlign:'center',fill:'#444'});
// panel c legends
T(19,967,"Age",{fontSize:7,fill:'#333'});
R(36.7,956.7,55.6,11,grad(viridisR.map((c,i)=>[i/8,c]),false));
[0,20,40,60,80].forEach(v=>T(35.7+v*.705,973.5,String(v),{fontSize:5.3,textAlign:'center',fill:'#444'}));
T(97,968,"Sex",{fontSize:7,fill:'#333'});
R(113,956.7,11,11.2,'#ffc0cb');R(113,968,11,11.1,'#87ceeb');
T(127.7,962.3,"female",{fontSize:5.3,fill:'#444'});T(127.7,973.5,"male",{fontSize:5.3,fill:'#444'});
T(150.7,974,"Methylation\ncluster",{fontSize:7,lineHeight:8,fill:'#333'});
[["chordoma C",'#66c2a5'],["nucleus pulposus",'#fc8d62'],["chordoma I",'#8da0cb']].forEach((l,i)=>{R(190.7,956.7+i*11.25,11.3,11.25,l[1]);T(205.7,962.3+i*11.25,l[0],{fontSize:5.3,fill:'#444'});});
T(256,967,"Val.",{fontSize:7,fill:'#333'});
R(271.7,956.7,56.6,11,grad([[0,"#5e4fa2"],[.09,"#3288bd"],[.23,"#66c2a5"],[.33,"#abdda4"],[.4,"#e6f598"],[.46,"#ffffbf"],[.53,"#fee08b"],[.6,"#fdae61"],[.7,"#f46d43"],[.83,"#d53e4f"],[1,"#9e0142"]],false));
[["-0.3",283.7],["0.0",297.3],["0.3",311],["0.6",324.3]].forEach(t=>T(t[1],973.5,t[0],{fontSize:5.3,textAlign:'center',fill:'#444'}));
// panels d,e titles
T(503,504,"WGCNA module 3",{fontSize:8.6,textAlign:'center',fill:'#333'});
T(503,753,"WGCNA module 2",{fontSize:8.6,textAlign:'center',fill:'#333'});
// right-hand legends
T(664.5,638.5,"STRING\ncentrality",{fontSize:7.3,lineHeight:8,fill:'#333'});
[[655,5.3,"100"],[666,8.7,"1000"],[679.3,12,"10000"]].forEach(l=>{gfx.push({type:'circle',silent:true,shape:{cx:671.7,cy:l[0],r:l[1]/2},style:{fill:'#000'}});T(682.7,l[0],l[2],{fontSize:5.6,fill:'#444'});});
T(664.5,698.5,"WGCNA\nconnectivity",{fontSize:7.3,lineHeight:8,fill:'#333'});
R(664.5,710,11.5,56.3,grad(connStops,true,true));
[[100,710],[75,723.8],[50,737.7],[25,752.3],[0,766]].forEach(t=>T(679,t[1],String(t[0]),{fontSize:5.6,fill:'#444'}));
T(664.5,778.5,"STRING\nscore",{fontSize:7.3,lineHeight:8,fill:'#333'});
[400,500,600,700,800,900].forEach((v,i)=>{const y=795+i*11.33;gfx.push({type:'line',silent:true,shape:{x1:665,y1:y,x2:675,y2:y},style:{stroke:'#e2e2e2',lineWidth:(v-350)/250}});T(679,y,String(v),{fontSize:5.6,fill:'#444'});});
const chart=echarts.init(document.getElementById('c'),null,{renderer:'canvas',width:702,height:991});
chart.setOption({animation:false,backgroundColor:'#fff',textStyle:{fontFamily:FONT},tooltip:{show:false},grid:grids,xAxis:xAxes,yAxis:yAxes,visualMap:vms,series,graphic:{elements:gfx}});
</script></body></html>
